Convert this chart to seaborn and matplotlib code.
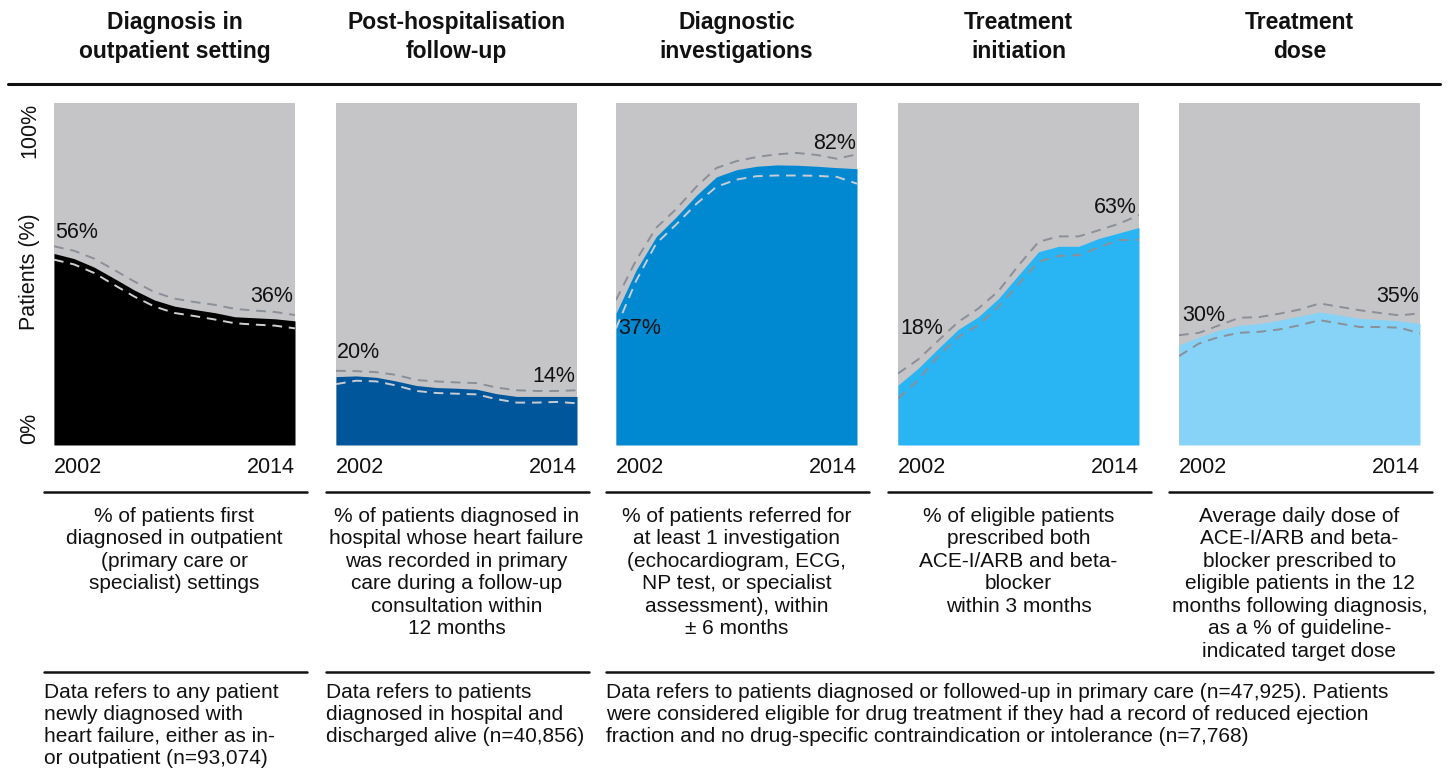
import matplotlib
matplotlib.use("Agg")
import matplotlib.pyplot as plt
from matplotlib.lines import Line2D
import seaborn as sns
import pandas as pd

# ---------------- data ----------------
years = list(range(2002, 2015))

titles = ["Diagnosis in\noutpatient setting", "Post-hospitalisation\nfollow-up",
          "Diagnostic\ninvestigations", "Treatment\ninitiation", "Treatment\ndose"]

outpatient = [0.560, 0.545, 0.520, 0.487, 0.453, 0.424, 0.406, 0.396, 0.387, 0.375, 0.372, 0.369, 0.363]
outpatient_hi = [0.581, 0.568, 0.545, 0.512, 0.478, 0.447, 0.428, 0.418, 0.410, 0.398, 0.393, 0.389, 0.380]
outpatient_lo = [0.542, 0.528, 0.503, 0.468, 0.434, 0.405, 0.386, 0.377, 0.367, 0.356, 0.352, 0.349, 0.341]

followup = [0.200, 0.202, 0.198, 0.187, 0.174, 0.168, 0.166, 0.163, 0.150, 0.142, 0.142, 0.142, 0.142]
followup_hi = [0.217, 0.216, 0.213, 0.205, 0.190, 0.186, 0.183, 0.181, 0.168, 0.160, 0.158, 0.158, 0.160]
followup_lo = [0.178, 0.188, 0.186, 0.174, 0.158, 0.152, 0.150, 0.148, 0.134, 0.124, 0.124, 0.126, 0.122]

investig = [0.385, 0.511, 0.609, 0.667, 0.730, 0.784, 0.805, 0.815, 0.819, 0.818, 0.815, 0.811, 0.808]
investig_hi = [0.424, 0.540, 0.635, 0.690, 0.755, 0.810, 0.830, 0.842, 0.850, 0.854, 0.848, 0.837, 0.850]
investig_lo = [0.341, 0.480, 0.589, 0.645, 0.705, 0.755, 0.776, 0.786, 0.788, 0.788, 0.787, 0.784, 0.764]

initiation = [0.175, 0.224, 0.282, 0.338, 0.375, 0.428, 0.497, 0.565, 0.581, 0.581, 0.604, 0.620, 0.636]
initiation_hi = [0.209, 0.250, 0.305, 0.360, 0.399, 0.450, 0.525, 0.594, 0.610, 0.610, 0.628, 0.647, 0.672]
initiation_lo = [0.136, 0.190, 0.260, 0.316, 0.350, 0.404, 0.470, 0.536, 0.553, 0.555, 0.578, 0.599, 0.600]

dose = [0.292, 0.316, 0.336, 0.350, 0.355, 0.365, 0.377, 0.389, 0.380, 0.370, 0.367, 0.363, 0.355]
dose_hi = [0.321, 0.328, 0.350, 0.372, 0.374, 0.384, 0.396, 0.414, 0.404, 0.394, 0.386, 0.379, 0.385]
dose_lo = [0.260, 0.297, 0.316, 0.328, 0.331, 0.338, 0.350, 0.365, 0.355, 0.345, 0.345, 0.343, 0.326]

start_labels = ["56%", "20%", "37%", "18%", "30%"]
end_labels = ["36%", "14%", "82%", "63%", "35%"]

descriptions = [
    "% of patients first\ndiagnosed in outpatient\n(primary care or\nspecialist) settings",
    "% of patients diagnosed in\nhospital whose heart failure\nwas recorded in primary\ncare during a follow-up\nconsultation within\n12 months",
    "% of patients referred for\nat least 1 investigation\n(echocardiogram, ECG,\nNP test, or specialist\nassessment), within\n\u00b1 6 months",
    "% of eligible patients\nprescribed both\nACE-I/ARB and beta-\nblocker\nwithin 3 months",
    "Average daily dose of\nACE-I/ARB and beta-\nblocker prescribed to\neligible patients in the 12\nmonths following diagnosis,\nas a % of guideline-\nindicated target dose",
]

footnotes = [
    "Data refers to any patient\nnewly diagnosed with\nheart failure, either as in-\nor outpatient (n=93,074)",
    "Data refers to patients\ndiagnosed in hospital and\ndischarged alive (n=40,856)",
    "Data refers to patients diagnosed or followed-up in primary care (n=47,925). Patients\nwere considered eligible for drug treatment if they had a record of reduced ejection\nfraction and no drug-specific contraindication or intolerance (n=7,768)",
]

series = [
    (outpatient, outpatient_lo, outpatient_hi),
    (followup, followup_lo, followup_hi),
    (investig, investig_lo, investig_hi),
    (initiation, initiation_lo, initiation_hi),
    (dose, dose_lo, dose_hi),
]

# ---------------- style / layout ----------------
sns.set_theme(style="white")
FONT = ["Liberation Sans", "DejaVu Sans"]
plt.rcParams["font.family"] = FONT

fill_colors = ["#000000", "#00569A", "#0088D1", "#29B5F4", "#86D3F7"]
lo_colors = ["#d0d0d3", "#c9ccd3", "#c9ccd3", "#8a8f98", "#8a8f98"]
hi_color = "#8a8f98"
bg_color = "#C5C5C8"
TXT = "#111111"

W, H = 1448, 773
fig = plt.figure(figsize=(W / 100, H / 100), dpi=100)

lefts_px = [54, 336, 616, 898, 1179]
pw, top_px, bot_px = 241, 103, 445

# label positions (year, value, ha): start label, end label
start_pos = [(2002.05, 0.62, "left"), (2002.05, 0.27, "left"), (2002.1, 0.342, "left"),
             (2002.1, 0.342, "left"), (2002.15, 0.38, "left")]
end_pos = [(2013.9, 0.433, "right"), (2013.9, 0.199, "right"), (2013.95, 0.883, "right"),
           (2013.9, 0.693, "right"), (2013.95, 0.433, "right")]

LAB_FS = 15.5
DESC_FS = 15
TITLE_FS = 16.5


def fx(px):
    return px / W


def fy(py):
    return 1 - py / H


for i in range(5):
    L = lefts_px[i]
    ax = fig.add_axes([fx(L), fy(bot_px), pw / W, (bot_px - top_px) / H])
    ax.set_facecolor(bg_color)
    vals, lo, hi = series[i]
    df = pd.DataFrame({"year": years, "value": vals, "lo": lo, "hi": hi})
    ax.fill_between(df["year"], 0, df["value"], color=fill_colors[i], lw=0, zorder=1)
    sns.lineplot(data=df, x="year", y="hi", ax=ax, color=hi_color, lw=1.4,
                 linestyle=(0, (5, 3.5)), zorder=3)
    sns.lineplot(data=df, x="year", y="lo", ax=ax, color=lo_colors[i], lw=1.4,
                 linestyle=(0, (5, 3.5)), zorder=3)
    ax.set_xlim(2002, 2014)
    ax.set_ylim(0, 1)
    ax.set_xticks([])
    ax.set_yticks([])
    ax.set_xlabel("")
    ax.set_ylabel("")
    for s in ax.spines.values():
        s.set_visible(False)

    sx, sy, sha = start_pos[i]
    ax.text(sx, sy, start_labels[i], ha=sha, va="center", fontsize=LAB_FS, color=TXT, zorder=4)
    ex, ey, eha = end_pos[i]
    ax.text(ex, ey, end_labels[i], ha=eha, va="center", fontsize=LAB_FS, color=TXT, zorder=4)

    # year labels
    fig.text(fx(L), fy(467), str(years[0]), ha="left", va="center", fontsize=LAB_FS, color=TXT)
    fig.text(fx(L + pw), fy(467), str(years[-1]), ha="right", va="center", fontsize=LAB_FS, color=TXT)

    cx = L + pw / 2
    # titles
    fig.text(fx(cx), fy(37), titles[i], ha="center", va="center", fontsize=TITLE_FS,
             fontweight="bold", linespacing=1.3, color=TXT)

    # rule under years
    fig.add_artist(Line2D([fx(L - 10), fx(L + pw + 12)], [fy(492), fy(492)],
                          color=TXT, lw=1.8))
    # description
    fig.text(fx(cx), fy(507), descriptions[i], ha="center", va="top", fontsize=DESC_FS,
             linespacing=1.23, color=TXT)

# top rule
fig.add_artist(Line2D([fx(8), fx(1440)], [fy(84), fy(84)], color=TXT, lw=2.2))

# lower rules
fig.add_artist(Line2D([fx(44), fx(307)], [fy(672), fy(672)], color=TXT, lw=1.8))
fig.add_artist(Line2D([fx(326), fx(589)], [fy(672), fy(672)], color=TXT, lw=1.8))
fig.add_artist(Line2D([fx(606), fx(1433)], [fy(672), fy(672)], color=TXT, lw=1.8))

# footnotes
for xpx, txt in zip([44, 326, 606], footnotes):
    fig.text(fx(xpx), fy(683), txt, ha="left", va="top", fontsize=DESC_FS,
             linespacing=1.19, color=TXT)

# y-axis labels
fig.text(fx(30), fy(103), "100%", rotation=90, ha="center", va="top", fontsize=LAB_FS, color=TXT)
fig.text(fx(30), fy(272), "Patients (%)", rotation=90, ha="center", va="center", fontsize=LAB_FS, color=TXT)
fig.text(fx(30), fy(444), "0%", rotation=90, ha="center", va="bottom", fontsize=LAB_FS, color=TXT)

fig.savefig("out.png", dpi=100, facecolor="white")
